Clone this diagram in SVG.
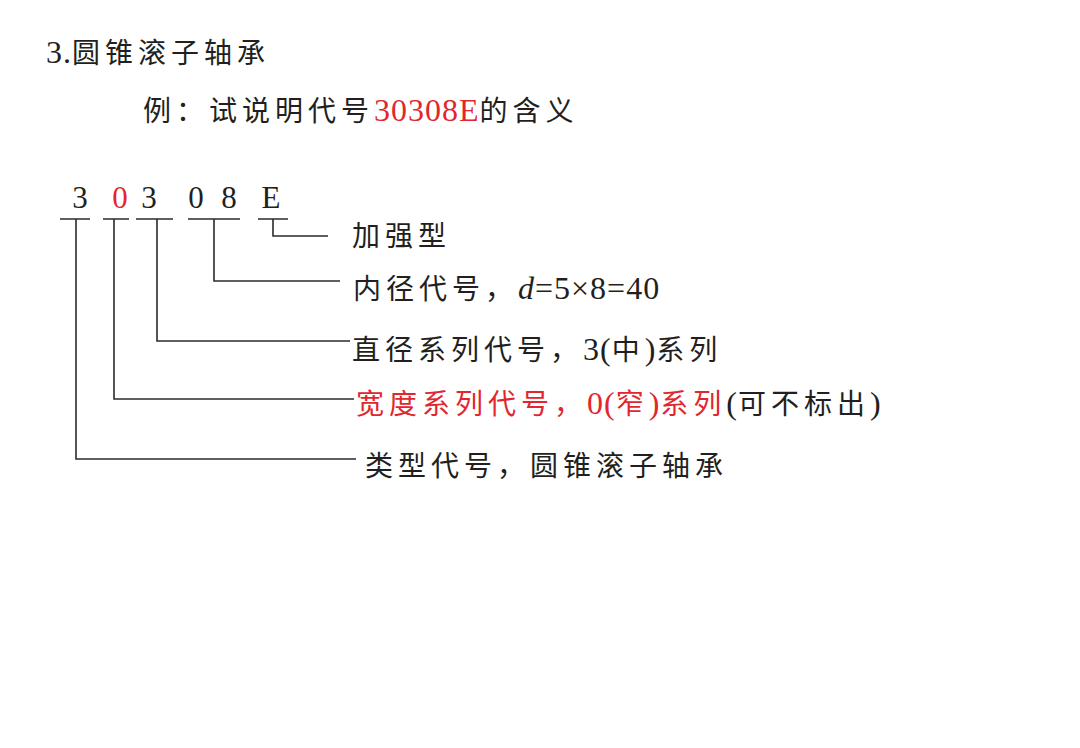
<svg xmlns="http://www.w3.org/2000/svg" width="1080" height="748" viewBox="0 0 1080 748">
<style>
text{font-family:"Liberation Serif","Noto Sans CJK SC",serif;font-size:28px;letter-spacing:5px;fill:#231f20}
.lat{font-size:32px;letter-spacing:1px}
.red{fill:#e1262d}
.code{font-size:31px;letter-spacing:0;text-anchor:middle}
.ln{fill:none;stroke:#2b2b2b;stroke-width:1.6}
</style>
<rect width="1080" height="748" fill="#fff"/>
<g id="title"><text x="46" y="63" letter-spacing="5.5"><tspan class="lat">3.</tspan>圆锥滚子轴承</text></g>
<g id="question"><text x="143" y="121">例：试说明代号<tspan class="red lat" letter-spacing="0.5">30308E</tspan>的含义</text></g>
<g id="code">
<text class="code" x="80" y="208">3</text>
<text class="code red" x="120" y="208">0</text>
<text class="code" x="149" y="208">3</text>
<text class="code" x="196" y="208">0</text>
<text class="code" x="229" y="208">8</text>
<text class="code" x="271" y="208">E</text>
</g>
<g id="connectors" class="ln">
<path d="M60 219H90M103 219H129M136 219H173M188 219H240M258 219H288"/>
<path d="M273 219V236H328"/>
<path d="M214 219V281H340"/>
<path d="M157 219V341H350"/>
<path d="M114 219V399H354"/>
<path d="M76 219V459H356"/>
</g>
<g id="label-e"><text x="352" y="246">加强型</text></g>
<g id="label-bore"><text x="353" y="299">内径代号，<tspan class="lat" letter-spacing="3"><tspan font-style="italic">d</tspan>=5×8=40</tspan></text></g>
<g id="label-dia"><text x="352" y="360">直径系列代号，<tspan class="lat">3(</tspan>中<tspan class="lat">)</tspan>系列</text></g>
<g id="label-width"><text x="356" y="414"><tspan class="red">宽度系列代号，<tspan class="lat">0(</tspan>窄<tspan class="lat">)</tspan>系列</tspan><tspan class="lat">(</tspan>可不标出<tspan class="lat">)</tspan></text></g>
<g id="label-type"><text x="365" y="476" letter-spacing="5.5">类型代号，圆锥滚子轴承</text></g>
</svg>
